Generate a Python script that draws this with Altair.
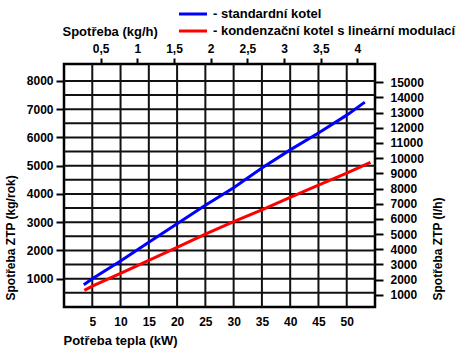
import altair as alt
import pandas as pd

# --- data ---
kw_std = [3.5, 5, 10, 15, 20, 25, 30, 35, 40, 45, 50, 53.2]
kg_std = [790, 1000, 1625, 2295, 2950, 3600, 4220, 4920, 5560, 6160, 6790, 7250]
kw_kond = [3.6, 5, 10, 15, 20, 25, 30, 35, 40, 45, 50, 54.2]
kg_kond = [590, 740, 1190, 1650, 2110, 2580, 3020, 3440, 3880, 4310, 4740, 5120]

series = ["standardní kotel", "kondenzační kotel s lineární modulací"]
colors = ["#0000ff", "#ff0000"]

kw_ticks = [5, 10, 15, 20, 25, 30, 35, 40, 45, 50]
kgrok_ticks = [1000, 2000, 3000, 4000, 5000, 6000, 7000, 8000]
kgrok_grid = [500, 1000, 1500, 2000, 2500, 3000, 3500, 4000, 4500, 5000,
              5500, 6000, 6500, 7000, 7500, 8000]
kgh_ticks = [0.5, 1, 1.5, 2, 2.5, 3, 3.5, 4]
lh_ticks = [1000, 2000, 3000, 4000, 5000, 6000, 7000, 8000, 9000, 10000,
            11000, 12000, 13000, 14000, 15000]

kw_domain = [0, 55]
kgrok_domain = [0, 8600]
kgh_domain = [0, 4.24]
lh_domain = [200, 16200]

FONT = "Liberation Sans"

lines_df = pd.concat([
    pd.DataFrame({"kw": kw_std, "kg": kg_std, "series": series[0]}),
    pd.DataFrame({"kw": kw_kond, "kg": kg_kond, "series": series[1]}),
])
vgrid_df = pd.DataFrame({"kw": kw_ticks})
hgrid_df = pd.DataFrame({"kg": kgrok_grid})
sec_df = pd.DataFrame({"kgh": kgh_domain, "lh": lh_domain})


def xs():
    return alt.Scale(domain=kw_domain, nice=False, zero=False)


def ys():
    return alt.Scale(domain=kgrok_domain, nice=False, zero=False)


common_axis = dict(labelFont=FONT, labelFontSize=12, labelFontWeight="bold",
                   labelColor="black", titleFont=FONT,
                   titleFontWeight="bold", titleColor="black", domain=False,
                   grid=False, labelOverlap=False, labelFlush=False,
                   tickColor="black", tickWidth=2)

x_bottom = alt.X("kw:Q", scale=xs(), axis=alt.Axis(
    orient="bottom", values=kw_ticks, ticks=False, tickSize=0, labelPadding=9,
    title="Potřeba tepla (kW)", titleAlign="left", titleBaseline="middle",
    titleFontSize=13, titleAngle=0, titleX=-1, titleY=33, **common_axis))
y_left = alt.Y("kg:Q", scale=ys(), axis=alt.Axis(
    orient="left", values=kgrok_ticks, format="d", tickSize=8, labelPadding=3,
    title="Spotřeba ZTP (kg/rok)", titleAngle=270, titleAlign="left",
    titleFontSize=12, titleBaseline="middle", titleX=-53.5, titleY=236,
    **common_axis))

vgrid = alt.Chart(vgrid_df).mark_rule(color="#111111", strokeWidth=2).encode(
    x=alt.X("kw:Q", scale=xs(), axis=None))
hgrid = alt.Chart(hgrid_df).mark_rule(color="#111111", strokeWidth=2).encode(
    y=alt.Y("kg:Q", scale=ys(), axis=None))

lines = alt.Chart(lines_df).mark_line(strokeWidth=3).encode(
    x=x_bottom,
    y=y_left,
    color=alt.Color("series:N",
                    scale=alt.Scale(domain=series, range=colors),
                    legend=alt.Legend(
                        orient="none", legendX=120.5, legendY=-58.5, title=None,
                        symbolType="M-2,0H2", symbolSize=196,
                        symbolStrokeWidth=3, labelFont=FONT, labelFontSize=13,
                        labelFontWeight="bold", labelColor="black",
                        labelExpr="'- ' + datum.label", rowPadding=1,
                        padding=0, labelOffset=11.5, labelLimit=400)),
)

sec = alt.Chart(sec_df).mark_point(opacity=0).encode(
    x=alt.X("kgh:Q", scale=alt.Scale(domain=kgh_domain, nice=False, zero=False),
            axis=alt.Axis(orient="top", values=kgh_ticks, tickSize=6,
                          labelPadding=3,
                          labelExpr="replace(format(datum.value, '~g'), '.', ',')",
                          title="Spotřeba (kg/h)", titleAlign="left",
                          titleFontSize=13,
                          titleBaseline="middle", titleX=-2, titleY=-33,
                          **common_axis)),
    y=alt.Y("lh:Q", scale=alt.Scale(domain=lh_domain, nice=False, zero=False),
            axis=alt.Axis(orient="right", values=lh_ticks, format="d",
                          tickSize=8, labelPadding=7,
                          title="Spotřeba ZTP (l/h)", titleAngle=270,
                          titleFontSize=12,
                          titleAlign="left", titleBaseline="middle",
                          titleX=62.5, titleY=236, **common_axis)),
)

chart = alt.layer(vgrid, hgrid, lines, sec).resolve_scale(
    x="independent", y="independent"
).properties(
    width=311, height=243,
    autosize=alt.AutoSizeParams(type="none"),
    padding={"left": 64, "top": 64, "right": 93, "bottom": 46},
    background="white",
).configure_view(stroke="black", strokeWidth=2.5)

chart.save("out.html", embed_options={"renderer": "svg", "actions": False})
